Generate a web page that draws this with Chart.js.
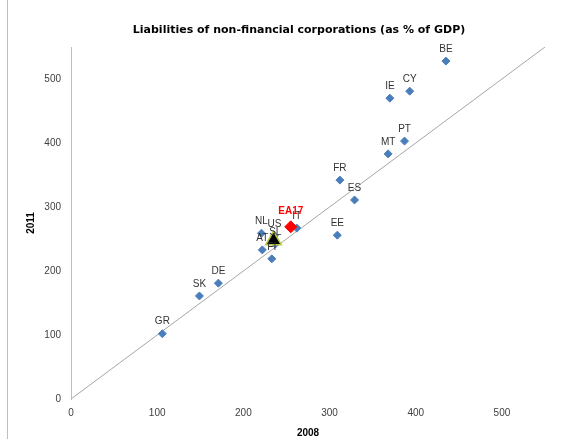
<!DOCTYPE html>
<html>
<head>
<meta charset="utf-8">
<script src="https://cdn.jsdelivr.net/npm/chart.js@4.4.1/dist/chart.umd.min.js"></script>
<style>
  html, body { margin: 0; padding: 0; background: #fff; }
  #wrap { position: relative; width: 576px; height: 439px; }
  #frame { position: absolute; left: 7px; top: 0; width: 1px; height: 439px; background: #bfbfbf; }
</style>
</head>
<body>
<div id="wrap">
  <canvas id="c" width="576" height="439"></canvas>
  <div id="frame"></div>
</div>
<script>
// Liabilities of NFCs, % of GDP
const chartTitle = 'Liabilities of non-financial corporations (as % of GDP)';
const countries = ['BE', 'CY', 'IE', 'PT', 'MT', 'FR', 'ES', 'EE', 'IT', 'NL', 'US', 'SL', 'AT', 'FI', 'DE', 'SK', 'GR'];
const y2008 = [435, 393, 370, 387, 368, 312, 329, 309, 262, 221, 236, 237, 222, 233, 171, 149, 106];
const y2011 = [528, 481, 470, 403, 383, 342, 311, 256, 267, 259, 255, 242, 233, 219, 181, 161, 102];
const ea17 = { label: 'EA17', x: 255, y: 269 };
const avgPoint = { x: 235, y: 248 };
const diagonal = [0, 550];

const pts = countries.map((c, i) => ({ x: y2008[i], y: y2011[i], label: c }));

// title drawn by hand so it can sit a bit right of centre, like the original
const titlePlugin = {
  id: 'sheetTitle',
  afterDraw(chart) {
    const { ctx } = chart;
    ctx.save();
    ctx.textAlign = 'center';
    ctx.textBaseline = 'middle';
    ctx.font = 'bold 11px "DejaVu Sans", sans-serif';
    ctx.fillStyle = '#000';
    ctx.fillText(chartTitle, 299, 30);
    ctx.restore();
  }
};

const labelPlugin = {
  id: 'pointLabels',
  afterDatasetsDraw(chart) {
    const { ctx } = chart;
    const xs = chart.scales.x, ys = chart.scales.y;
    ctx.save();
    ctx.textAlign = 'center';
    ctx.textBaseline = 'middle';
    ctx.font = '10px "Liberation Sans", Arial, sans-serif';
    ctx.fillStyle = '#333';
    for (const p of pts) {
      ctx.fillText(p.label, xs.getPixelForValue(p.x), ys.getPixelForValue(p.y) - 12);
    }
    ctx.font = 'bold 10px "Liberation Sans", Arial, sans-serif';
    ctx.fillStyle = '#ff0000';
    ctx.fillText(ea17.label, xs.getPixelForValue(ea17.x), ys.getPixelForValue(ea17.y) - 16);
    ctx.restore();
  }
};

new Chart(document.getElementById('c'), {
  type: 'scatter',
  data: {
    datasets: [
      { data: pts, pointStyle: 'rectRot', pointRadius: 4, pointHoverRadius: 4,
        backgroundColor: '#4a7ebb', borderColor: '#4a7ebb', borderWidth: 1, order: 3 },
      { data: [{ x: avgPoint.x, y: avgPoint.y }], pointStyle: 'triangle', pointRadius: 9,
        backgroundColor: '#000', borderColor: '#b5c93a', borderWidth: 1.5, order: 1 },
      { data: [{ x: ea17.x, y: ea17.y }], pointStyle: 'rectRot', pointRadius: 6,
        backgroundColor: '#ff0000', borderColor: '#ff0000', order: 2 },
      { data: diagonal.map(v => ({ x: v, y: v })), showLine: true, borderColor: '#a6a6a6',
        borderWidth: 1, pointRadius: 0, order: 4 },
    ],
  },
  options: {
    responsive: false, animation: false,
    layout: { padding: { left: 12, right: 31, top: 47, bottom: 0 } },
    plugins: {
      legend: { display: false }, tooltip: { enabled: false }, title: { display: false },
    },
    scales: {
      x: {
        type: 'linear', min: 0, max: 550,
        afterBuildTicks: s => { s.ticks = s.ticks.filter(t => t.value % 100 === 0); },
        afterFit: s => { s.height = 40; },
        ticks: { stepSize: 100, color: '#404040', padding: 8, maxRotation: 0,
          font: { family: '"Liberation Sans", Arial, sans-serif', size: 10 } },
        grid: { display: false, drawTicks: false },
        border: { display: false },
        title: { display: true, text: '2008', color: '#000', padding: { top: 2, bottom: 0 },
          font: { family: '"Liberation Sans", Arial, sans-serif', size: 10, weight: 'bold' } },
      },
      y: {
        type: 'linear', min: 0, max: 550,
        afterBuildTicks: s => { s.ticks = s.ticks.filter(t => t.value % 100 === 0); },
        afterFit: s => { s.width = 59; },
        ticks: { stepSize: 100, color: '#404040', padding: 10,
          font: { family: '"Liberation Sans", Arial, sans-serif', size: 10 } },
        grid: { display: false, drawTicks: false },
        border: { display: true, color: '#bfbfbf' },
        title: { display: true, text: '2011', color: '#000', padding: { top: 13, bottom: 0 },
          font: { family: '"Liberation Sans", Arial, sans-serif', size: 10, weight: 'bold' } },
      },
    },
  },
  plugins: [labelPlugin, titlePlugin],
});
</script>
</body>
</html>
